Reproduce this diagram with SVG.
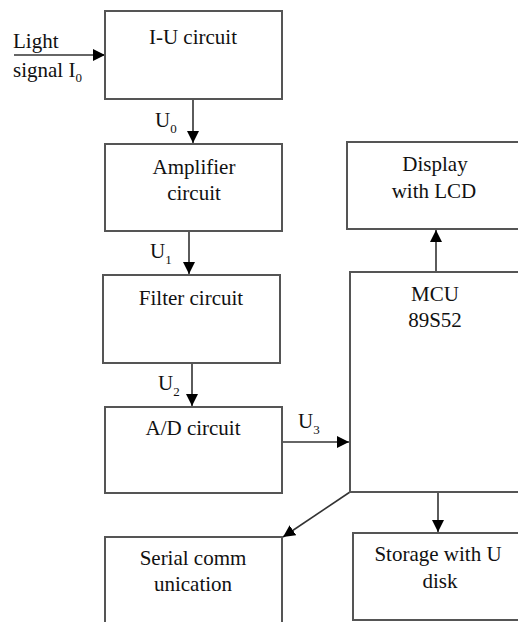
<svg xmlns="http://www.w3.org/2000/svg" width="518" height="622" viewBox="0 0 518 622">
<defs>
<style>
.box{fill:#fff;stroke:#555;stroke-width:2}
.t{font-family:"Liberation Serif","Times New Roman","DejaVu Serif",serif;font-size:21px;fill:#111;text-anchor:middle}
.l{font-family:"Liberation Serif","Times New Roman","DejaVu Serif",serif;font-size:21px;fill:#111}
.sub{font-size:13px}
.c{stroke:#333;stroke-width:1.6;fill:none;marker-end:url(#ah)}
</style>
<marker id="ah" markerUnits="userSpaceOnUse" markerWidth="12" markerHeight="12" viewBox="0 0 12 12" refX="12" refY="6" orient="auto">
<path d="M0,0 L12,6 L0,12 Z" fill="#000"/>
</marker>
</defs>
<rect width="518" height="622" fill="#fff"/>
<g id="connectors">
<line class="c" x1="14" y1="55" x2="105" y2="55"/>
<line class="c" x1="193" y1="99" x2="193" y2="143"/>
<line class="c" x1="189" y1="231" x2="189" y2="274"/>
<line class="c" x1="192" y1="363" x2="192" y2="406"/>
<line class="c" x1="282" y1="442" x2="349" y2="442"/>
<line class="c" x1="436" y1="272" x2="436" y2="230"/>
<line class="c" x1="350" y1="492" x2="283" y2="537"/>
<line class="c" x1="438" y1="492" x2="438" y2="532"/>
<text class="l" x="13" y="48">Light</text>
<text class="l" x="13" y="77">signal I<tspan class="sub" dy="5">0</tspan></text>
<text class="l" x="155" y="127">U<tspan class="sub" dy="6">0</tspan></text>
<text class="l" x="150" y="258">U<tspan class="sub" dy="6">1</tspan></text>
<text class="l" x="158" y="390">U<tspan class="sub" dy="6">2</tspan></text>
<text class="l" x="298" y="428">U<tspan class="sub" dy="6">3</tspan></text>
</g>
<g id="iu">
<rect class="box" x="105" y="11" width="177" height="88"/>
<text class="t" x="193" y="44">I-U circuit</text>
</g>
<g id="amp">
<rect class="box" x="105" y="144" width="177" height="87"/>
<text class="t" x="194" y="174">Amplifier</text>
<text class="t" x="194" y="200">circuit</text>
</g>
<g id="filter">
<rect class="box" x="103" y="275" width="177" height="88"/>
<text class="t" x="191" y="305">Filter circuit</text>
</g>
<g id="ad">
<rect class="box" x="105" y="407" width="177" height="86"/>
<text class="t" x="193" y="435">A/D circuit</text>
</g>
<g id="mcu">
<rect class="box" x="350" y="272" width="200" height="220"/>
<text class="t" x="435" y="301">MCU</text>
<text class="t" x="435" y="327">89S52</text>
</g>
<g id="display">
<rect class="box" x="347" y="142" width="200" height="87"/>
<text class="t" x="435" y="171">Display</text>
<text class="t" x="434" y="198">with LCD</text>
</g>
<g id="serial">
<rect class="box" x="105" y="537" width="177" height="100"/>
<text class="t" x="193" y="565">Serial comm</text>
<text class="t" x="193" y="591">unication</text>
</g>
<g id="storage">
<rect class="box" x="353" y="533" width="200" height="87"/>
<text class="t" x="438" y="561">Storage with U</text>
<text class="t" x="440" y="588">disk</text>
</g>
</svg>
